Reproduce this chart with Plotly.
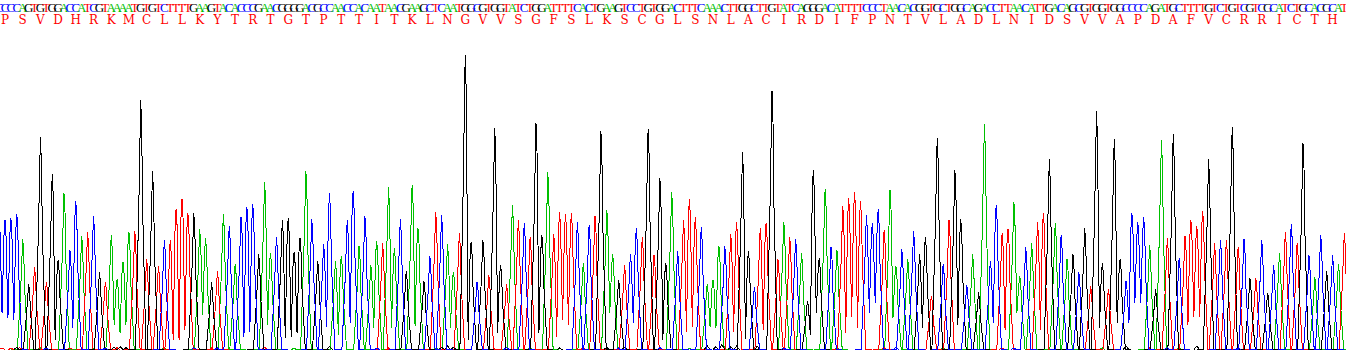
import plotly.graph_objects as go

sequence = ("C" "CCCAGTGTGGACCATCGTAAAATGTGTCTTTTGAAGTACACCCGAACGGGGACGCCAACCACAATAACGAAGCTCAATGGCGTGGTATCTGGA"
            "TTTTCACTGAAGTCCTGTGGACTTTCAAACTTGGCTTGTATCAGGGACATTTTCCCTAACACGGTGCTGGCAGACCTTAACATTGACAGCGTGG"
            "TGGCCCCAGATGCTTTTGTCTGTCGTCGCATCTGCACGCAT")
protein = "PSVDHRKMCLLKYTRTGTPTTITKLNGVVSGFSLKSCGLSNLACIRDIFPNTVLADLNIDSVVAPDAFVCRRICTH"

peak_height = [
398,390,395,408,332,198,248,638,205,528,270,470,300,447,342,355,402,233,205,345,
213,263,355,357,750,273,537,252,330,330,423,453,412,410,363,336,203,237,408,372,
258,400,430,438,288,504,292,340,390,396,295,335,537,392,268,318,470,267,283,390,
477,312,402,254,328,320,488,305,393,237,495,365,207,282,414,405,318,235,350,885,
324,205,330,225,666,254,198,435,390,380,338,680,344,533,348,413,408,411,383,260,
375,402,657,420,287,210,255,288,365,338,663,285,515,260,473,297,390,453,398,370,
197,210,312,312,348,383,594,297,190,367,382,777,273,385,340,333,292,148,540,277,
484,310,300,432,455,474,447,405,382,423,360,480,252,303,274,357,288,340,163,637,
258,390,540,392,195,288,173,678,268,435,352,364,444,222,308,320,385,411,572,380,
345,272,288,233,365,192,717,260,182,633,272,207,412,385,400,315,182,630,335,647,
275,342,390,372,417,572,320,330,330,670,310,332,215,215,330,172,255,290,355,378,
320,620,285,218,345,238,284,258,352]

# dip between two neighbouring peaks of the same base: {index of the left peak: signal}
valley_after = {0:110,1:95,2:90,9:30,12:65,19:75,20:50,21:75,29:30,30:30,31:60,34:105,41:40,42:55,
45:75,48:35,49:40,50:50,55:70,57:45,59:82,63:65,66:65,70:72,76:65,79:30,84:52,91:50,94:40,95:90,
96:75,103:110,107:80,112:30,116:53,117:70,120:70,121:65,124:55,126:32,129:60,137:45,138:110,
143:50,144:100,145:65,147:110,148:140,151:95,156:67,162:75,168:80,170:60,172:110,176:60,186:67,
189:80,191:80,192:140,193:140,201:75,202:100,203:100}

# low background bumps along the baseline
minor_black_pos = [3, 19.5, 20.5, 21.5, 56, 75, 76, 77, 95, 103, 106, 120, 121.5, 122.5, 124, 125, 128.5, 191, 203]
minor_black_val = [8, 8, 10, 7, 10, 8, 12, 8, 6, 8, 7, 14, 10, 16, 9, 12, 11, 12, 12]
minor_red_pos = [0.5, 2, 3.5, 12, 20, 36, 45, 66, 99, 150, 170, 195]
minor_red_val = [6, 5, 7, 6, 7, 6, 8, 6, 6, 7, 6, 6]
minor_blue_pos = [8, 18, 33, 37, 64, 86, 105, 112, 133, 152, 172, 198, 210]
minor_blue_val = [6, 6, 7, 6, 6, 7, 6, 7, 6, 8, 6, 7, 6]
minor_green_pos = [7, 16, 28, 50, 74, 90, 117, 142, 160, 187, 200]
minor_green_val = [6, 5, 6, 5, 6, 6, 5, 6, 5, 6, 5]

channel_colors = {"A": "#00c000", "T": "#ff0000", "G": "#000000", "C": "#0000ff"}
minor_peaks = {"A": (minor_green_pos, minor_green_val), "T": (minor_red_pos, minor_red_val),
               "G": (minor_black_pos, minor_black_val), "C": (minor_blue_pos, minor_blue_val)}
draw_order = ["A", "T", "G", "C"]
baseline = 1
foot = 0.9
tail = 1.9

fig = go.Figure()
for base in draw_order:
    xs, ys = [], []
    idx = [i for i, b in enumerate(sequence) if b == base]
    for k, i in enumerate(idx):
        h = peak_height[i]
        if i - 1 in idx:
            xs.append(i - 0.5); ys.append(valley_after.get(i - 1, 40))
        else:
            if k and i - idx[k - 1] > 2 * tail:
                xs.append(None); ys.append(None)
            if k == 0 or i - idx[k - 1] > 2 * tail:
                xs.append(i - tail); ys.append(baseline)
            xs += [i - foot, i - 0.34]; ys += [baseline, 0.55 * h]
        xs += [i - 0.17, i, i + 0.17]; ys += [0.88 * h, h, 0.88 * h]
        if i + 1 not in idx:
            xs += [i + 0.34, i + foot, i + tail]; ys += [0.55 * h, baseline, baseline]
    fig.add_trace(go.Scatter(x=xs, y=ys, mode="lines", line=dict(color=channel_colors[base], width=1), hoverinfo="skip"))
    mx, my = [], []
    for p, v in zip(*minor_peaks[base]):
        mx += [p - 0.5, p, p + 0.5, None]; my += [baseline, v, baseline, None]
    fig.add_trace(go.Scatter(x=mx, y=my, mode="lines", line=dict(color=channel_colors[base], width=1), hoverinfo="skip"))

fig.add_trace(go.Scatter(x=list(range(len(sequence))), y=[1024] * len(sequence), mode="text", text=list(sequence),
    textfont=dict(family="Liberation Serif", size=13, color=[channel_colors[b] for b in sequence]), hoverinfo="skip"))
fig.add_trace(go.Scatter(x=[1 + 3 * k for k in range(len(protein))], y=[986] * len(protein), mode="text", text=list(protein),
    textfont=dict(family="DejaVu Serif", size=12, color="#ff0000"), hoverinfo="skip"))

fig.update_layout(width=1346, height=351, margin=dict(l=0, r=0, t=0, b=0), showlegend=False,
    paper_bgcolor="white", plot_bgcolor="white",
    xaxis=dict(visible=False, range=[0.1525, 228.288]),
    yaxis=dict(visible=False, range=[-3, 1050]))
fig.write_html("out.html", config={"displayModeBar": False},
    post_script="document.body.style.margin='0';document.querySelectorAll('.js-line').forEach(p=>p.style.shapeRendering='crispEdges');")
